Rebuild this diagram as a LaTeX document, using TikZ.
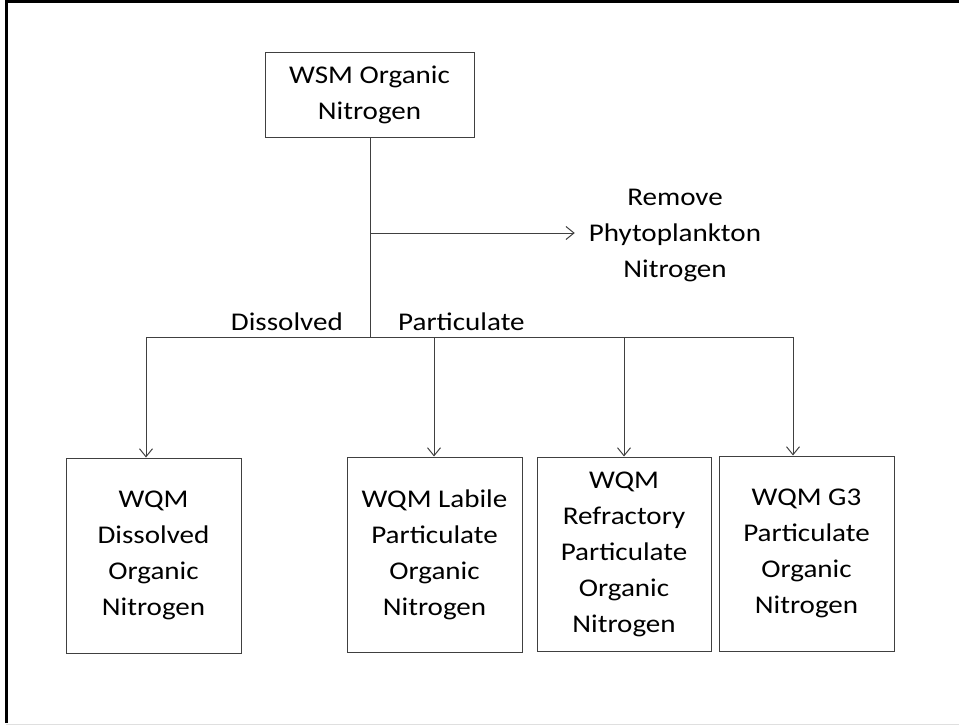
\documentclass[tikz,border=0pt]{standalone}
\usepackage{fontspec}
\setmainfont{Carlito}[FakeStretch=1.14]
\usetikzlibrary{arrows.meta}
\definecolor{linegray}{HTML}{404040}
\begin{document}
\begin{tikzpicture}[x=1pt,y=-1pt,
  every node/.style={font=\fontsize{25.5}{36}\selectfont, text=black},
  box/.style={draw=linegray, line width=1pt, align=center, inner sep=0pt,
              minimum width=175pt, minimum height=195pt},
  link/.style={draw=linegray, line width=1pt},
  arr/.style={link, -{Straight Barb[length=8pt,width=13pt,line width=1pt]}},
  lbl/.style={inner sep=0pt, anchor=base}]
  \useasboundingbox (0,0) rectangle (959,725);
  % page frame
  \draw[black, line width=3pt] (6,723) -- (6,1.5) -- (959,1.5);
  \draw[gray!25, line width=1pt] (6,724) -- (959,724);

  % boxes
  \node[box, minimum width=209pt, minimum height=84pt] (wsm) at (369.5,95) {WSM Organic\\Nitrogen};
  \node[box] (don) at (153.5,555.5) {WQM\\Dissolved\\Organic\\Nitrogen};
  \node[box] (lpon) at (434.5,554.5) {WQM Labile\\Particulate\\Organic\\Nitrogen};
  \node[box, minimum width=174pt, minimum height=194pt] (rpon) at (624,554) {WQM\\Refractory\\Particulate\\Organic\\Nitrogen};
  \node[box] (gpon) at (806.5,553.5) {WQM G3\\Particulate\\Organic\\Nitrogen};

  % removed phytoplankton nitrogen
  \node[align=center, inner xsep=14pt, inner ysep=0pt] (phyto) at (675,236) {Remove\\Phytoplankton\\Nitrogen};

  % connector skeleton
  \coordinate (split) at (370,337);
  \coordinate (branch) at (370,233);
  \coordinate (d1) at (146,337);
  \coordinate (d2) at (434,337);
  \coordinate (d3) at (624,337);
  \coordinate (d4) at (793,337);

  \draw[link] (wsm.south -| split) -- (split);
  \draw[arr] (branch) -- (branch -| phyto.west);
  \draw[link] (d1) -- (d4);
  \draw[arr] (d1) -- (d1 |- don.north);
  \draw[arr] (d2) -- (d2 |- lpon.north);
  \draw[arr] (d3) -- (d3 |- rpon.north);
  \draw[arr] (d4) -- (d4 |- gpon.north);

  % branch labels
  \node[lbl, anchor=base east] (dis) at (343,330) {Dissolved};
  \node[lbl, anchor=base west] (par) at (398,330) {Particulate};
\end{tikzpicture}
\end{document}
